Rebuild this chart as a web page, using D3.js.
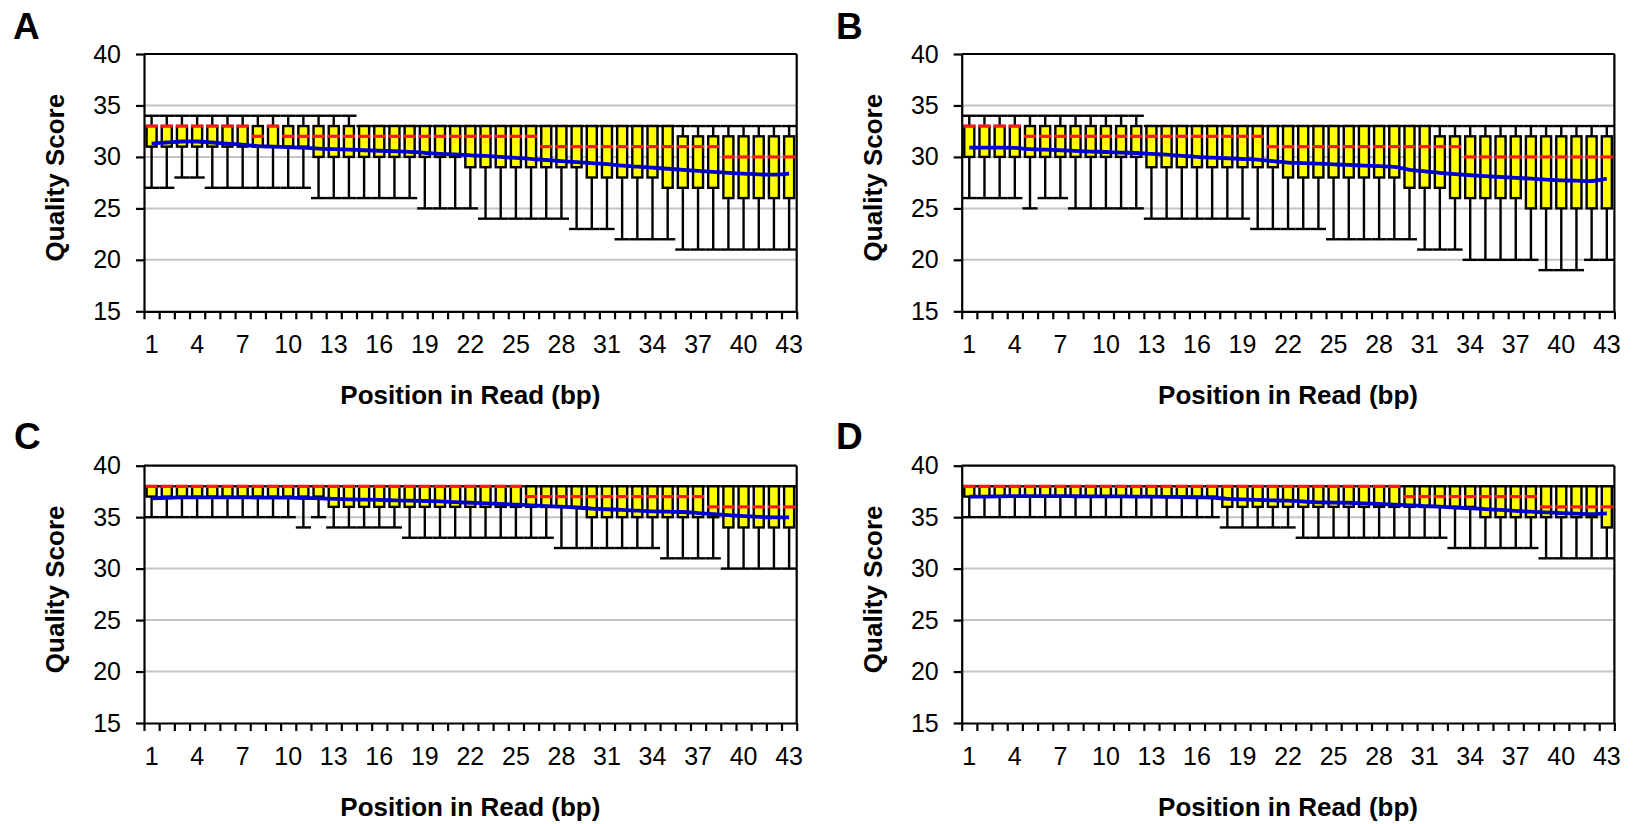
<!DOCTYPE html>
<html><head><meta charset="utf-8">
<script src="https://cdn.jsdelivr.net/npm/d3@7"></script>
<style>body{margin:0;background:#fff}svg{display:block}text{font-family:"Liberation Sans",Arial,sans-serif;fill:#000}</style>
</head><body><svg id="c" width="1633" height="824"></svg>
<script>
const positions = [1,2,3,4,5,6,7,8,9,10,11,12,13,14,15,16,17,18,19,20,21,22,23,24,25,26,27,28,29,30,31,32,33,34,35,36,37,38,39,40,41,42,43];
const yTicks = [15,20,25,30,35,40];
const xTickLabels = [1,4,7,10,13,16,19,22,25,28,31,34,37,40,43];
const panelLetters = ["A","B","C","D"];
const xTitle = "Position in Read (bp)";
const yTitle = "Quality Score";

// Panel A
const aLow  = [27,27,28,28,27,27,27,27,27,27,27,26,26,26,26,26,26,26,25,25,25,25,24,24,24,24,24,24,23,23,23,22,22,22,22,21,21,21,21,21,21,21,21];
const aQ1   = [31,31,31,31,31,31,31,31,31,31,31,30,30,30,30,30,30,30,30,30,30,29,29,29,29,29,29,29,29,28,28,28,28,28,27,27,27,27,26,26,26,26,26];
const aMed  = [33,33,33,33,33,33,33,32,33,32,32,32,32,32,32,32,32,32,32,32,32,32,32,32,32,32,31,31,31,31,31,31,31,31,31,31,31,31,30,30,30,30,30];
const aQ3   = [33,33,33,33,33,33,33,33,33,33,33,33,33,33,33,33,33,33,33,33,33,33,33,33,33,33,33,33,33,33,33,33,33,33,33,32,32,32,32,32,32,32,32];
const aHigh = [34,34,34,34,34,34,34,34,34,34,34,34,34,34,33,33,33,33,33,33,33,33,33,33,33,33,33,33,33,33,33,33,33,33,33,33,33,33,33,33,33,33,33];
const aMean = [31.3,31.4,31.5,31.5,31.4,31.3,31.2,31.05,31.0,30.95,30.9,30.8,30.75,30.7,30.65,30.6,30.55,30.5,30.4,30.3,30.25,30.15,30.1,30.0,29.9,29.8,29.7,29.6,29.5,29.4,29.3,29.15,29.05,28.95,28.85,28.75,28.65,28.55,28.45,28.38,28.3,28.28,28.38];

// Panel B
const bLow  = [26,26,26,26,25,26,26,25,25,25,25,25,24,24,24,24,24,24,24,23,23,23,23,23,22,22,22,22,22,22,21,21,21,20,20,20,20,20,19,19,19,20,20];
const bQ1   = [30,30,30,30,30,30,30,30,30,30,30,30,29,29,29,29,29,29,29,29,29,28,28,28,28,28,28,28,28,27,27,27,26,26,26,26,26,25,25,25,25,25,25];
const bMed  = [33,33,33,33,32,32,32,32,32,32,32,32,32,32,32,32,32,32,32,32,31,31,31,31,31,31,31,31,31,31,31,31,31,30,30,30,30,30,30,30,30,30,30];
const bQ3   = [33,33,33,33,33,33,33,33,33,33,33,33,33,33,33,33,33,33,33,33,33,33,33,33,33,33,33,33,33,33,33,32,32,32,32,32,32,32,32,32,32,32,32];
const bHigh = [34,34,34,34,34,34,34,34,34,34,34,34,33,33,33,33,33,33,33,33,33,33,33,33,33,33,33,33,33,33,33,33,33,33,33,33,33,33,33,33,33,33,33];
const bMean = [30.9,30.9,30.9,30.88,30.75,30.7,30.65,30.58,30.52,30.48,30.42,30.38,30.3,30.22,30.1,30.0,29.93,29.87,29.8,29.74,29.6,29.45,29.4,29.35,29.28,29.22,29.15,29.1,29.03,28.75,28.6,28.45,28.33,28.22,28.13,28.05,27.97,27.89,27.8,27.73,27.7,27.66,27.89];

// Panel C
const cLow  = [35,35,35,35,35,35,35,35,35,35,34,35,34,34,34,34,34,33,33,33,33,33,33,33,33,33,33,32,32,32,32,32,32,32,31,31,31,31,30,30,30,30,30];
const cQ1   = [37,37,37,37,37,37,37,37,37,37,37,37,36,36,36,36,36,36,36,36,36,36,36,36,36,36,36,36,36,35,35,35,35,35,35,35,35,35,34,34,34,34,34];
const cMed  = [38,38,38,38,38,38,38,38,38,38,38,38,38,38,38,38,38,38,38,38,38,38,38,38,38,37,37,37,37,37,37,37,37,37,37,37,37,36,36,36,36,36,36];
const cQ3   = [38,38,38,38,38,38,38,38,38,38,38,38,38,38,38,38,38,38,38,38,38,38,38,38,38,38,38,38,38,38,38,38,38,38,38,38,38,38,38,38,38,38,38];
const cHigh = [38,38,38,38,38,38,38,38,38,38,38,38,38,38,38,38,38,38,38,38,38,38,38,38,38,38,38,38,38,38,38,38,38,38,38,38,38,38,38,38,38,38,38];
const cMean = [36.83,36.88,36.92,36.93,36.93,36.93,36.92,36.91,36.9,36.9,36.86,36.83,36.78,36.73,36.7,36.67,36.63,36.6,36.57,36.54,36.47,36.4,36.34,36.28,36.22,36.15,36.08,36.02,35.93,35.83,35.77,35.7,35.63,35.57,35.53,35.5,35.4,35.3,35.2,35.1,35.03,34.98,34.98];

// Panel D
const dLow  = [35,35,35,35,35,35,35,35,35,35,35,35,35,35,35,35,35,34,34,34,34,34,33,33,33,33,33,33,33,33,33,33,32,32,32,32,32,32,31,31,31,31,31];
const dQ1   = [37,37,37,37,37,37,37,37,37,37,37,37,37,37,37,37,37,36,36,36,36,36,36,36,36,36,36,36,36,36,36,36,36,36,35,35,35,35,35,35,35,35,34];
const dMed  = [38,38,38,38,38,38,38,38,38,38,38,38,38,38,38,38,38,38,38,38,38,38,38,38,38,38,38,38,38,37,37,37,37,37,37,37,37,37,36,36,36,36,36];
const dQ3   = [38,38,38,38,38,38,38,38,38,38,38,38,38,38,38,38,38,38,38,38,38,38,38,38,38,38,38,38,38,38,38,38,38,38,38,38,38,38,38,38,38,38,38];
const dHigh = [38,38,38,38,38,38,38,38,38,38,38,38,38,38,38,38,38,38,38,38,38,38,38,38,38,38,38,38,38,38,38,38,38,38,38,38,38,38,38,38,38,38,38];
const dMean = [36.99,37.0,37.02,37.04,37.05,37.05,37.04,37.03,37.02,37.02,37.01,37.0,36.99,36.98,36.96,36.93,36.9,36.78,36.72,36.67,36.63,36.6,36.52,36.44,36.42,36.4,36.34,36.28,36.22,36.15,36.08,36.02,35.94,35.86,35.78,35.7,35.62,35.53,35.47,35.4,35.35,35.3,35.37];

const series = [
  {low:aLow,q1:aQ1,med:aMed,q3:aQ3,high:aHigh,mean:aMean},
  {low:bLow,q1:bQ1,med:bMed,q3:bQ3,high:bHigh,mean:bMean},
  {low:cLow,q1:cQ1,med:cMed,q3:cQ3,high:cHigh,mean:cMean},
  {low:dLow,q1:dQ1,med:dMed,q3:dQ3,high:dHigh,mean:dMean}
];

// layout
const W = 652.7, H = 257.3;
const frames = [
  {x0:144,   y0:54,    lx:13,  ly:39},
  {x0:961.7, y0:54,    lx:836, ly:39},
  {x0:144,   y0:465.7, lx:14,  ly:449},
  {x0:961.7, y0:465.7, lx:836, ly:449}
];

const svg = d3.select('#c');

frames.forEach((f, pi) => {
  const s = series[pi];
  const rows = positions.map((pos, i) => ({pos, low:s.low[i], q1:s.q1[i], med:s.med[i], q3:s.q3[i], high:s.high[i], mean:s.mean[i]}));

  svg.append('text').attr('x', f.lx).attr('y', f.ly)
    .attr('font-size', 37).attr('font-weight', 'bold').text(panelLetters[pi]);

  const g = svg.append('g').attr('transform', `translate(${f.x0},${f.y0})`);
  const x = d3.scaleBand().domain(positions).range([0, W]).padding(0);
  const xb = d3.scaleLinear().domain([0, positions.length]).range([0, W]);
  const y = d3.scaleLinear().domain([15, 40]).range([H, 0]);
  const bw = x.bandwidth();
  const cx = d => x(d.pos) + bw / 2;

  // gridlines
  g.append('g').selectAll('line').data(yTicks.filter(t => t > 15 && t < 40)).join('line')
    .attr('x1', 0).attr('x2', W).attr('y1', d => y(d)).attr('y2', d => y(d))
    .attr('stroke', '#c4c4c4').attr('stroke-width', 2);

  // whiskers
  const wg = g.append('g').attr('stroke', '#000').attr('stroke-width', 2.4);
  wg.selectAll('.wlo').data(rows).join('line').attr('class', 'wlo')
    .attr('x1', cx).attr('x2', cx).attr('y1', d => y(d.low)).attr('y2', d => y(d.q1));
  wg.selectAll('.whi').data(rows).join('line').attr('class', 'whi')
    .attr('x1', cx).attr('x2', cx).attr('y1', d => y(d.high)).attr('y2', d => y(d.q3));
  wg.selectAll('.clo').data(rows).join('line').attr('class', 'clo')
    .attr('x1', d => x(d.pos)).attr('x2', d => x(d.pos) + bw).attr('y1', d => y(d.low)).attr('y2', d => y(d.low));
  wg.selectAll('.chi').data(rows).join('line').attr('class', 'chi')
    .attr('x1', d => x(d.pos)).attr('x2', d => x(d.pos) + bw).attr('y1', d => y(d.high)).attr('y2', d => y(d.high));

  // boxes
  g.append('g').selectAll('rect').data(rows).join('rect')
    .attr('x', d => x(d.pos) + bw * 0.17).attr('width', bw * 0.66)
    .attr('y', d => y(d.q3)).attr('height', d => y(d.q1) - y(d.q3))
    .attr('fill', '#ffff00').attr('stroke', '#000').attr('stroke-width', 2.4);

  // medians
  g.append('g').selectAll('line').data(rows).join('line')
    .attr('x1', d => x(d.pos) + bw * 0.1).attr('x2', d => x(d.pos) + bw * 0.9)
    .attr('y1', d => y(d.med)).attr('y2', d => y(d.med))
    .attr('stroke', '#ff1a1a').attr('stroke-width', 3.2);

  // mean line
  g.append('path').datum(rows)
    .attr('d', d3.line().x(cx).y(d => y(d.mean)).curve(d3.curveCatmullRom))
    .attr('fill', 'none').attr('stroke', '#0000cc').attr('stroke-width', 3.8);

  // frame (top, right)
  g.append('line').attr('x1', 0).attr('x2', W).attr('y1', 0).attr('y2', 0).attr('stroke', '#000').attr('stroke-width', 2.2);
  g.append('line').attr('x1', W).attr('x2', W).attr('y1', 0).attr('y2', H).attr('stroke', '#000').attr('stroke-width', 2.2);

  // y axis
  const ya = g.append('g').call(d3.axisLeft(y).tickValues(yTicks).tickSize(8).tickSizeOuter(0));
  ya.select('.domain').attr('stroke-width', 2.2);
  ya.selectAll('.tick line').attr('stroke-width', 2.2);
  ya.selectAll('text').attr('x', -23).attr('font-size', 25).attr('font-family', '"Liberation Sans",Arial,sans-serif').attr('fill', '#000');

  // x axis boundary ticks
  const xa = g.append('g').attr('transform', `translate(0,${H})`)
    .call(d3.axisBottom(xb).tickValues(d3.range(positions.length + 1)).tickSize(8).tickSizeOuter(0).tickFormat(''));
  xa.select('.domain').attr('stroke-width', 2.2);
  xa.selectAll('.tick line').attr('stroke-width', 2.2);

  // x labels
  const xl = g.append('g').attr('transform', `translate(0,${H})`)
    .call(d3.axisBottom(x).tickValues(xTickLabels).tickSize(0).tickSizeOuter(0));
  xl.select('.domain').remove();
  xl.selectAll('text').attr('y', 42).attr('dy', 0).attr('font-size', 25)
    .attr('font-family', '"Liberation Sans",Arial,sans-serif').attr('fill', '#000');

  // titles
  g.append('text').attr('x', W / 2).attr('y', H + 93).attr('text-anchor', 'middle')
    .attr('font-size', 26).attr('font-weight', 'bold').text(xTitle);
  g.append('text').attr('transform', `translate(-80,${H / 2 - 5}) rotate(-90)`).attr('text-anchor', 'middle')
    .attr('font-size', 26).attr('font-weight', 'bold').text(yTitle);
});
</script>
</body></html>
